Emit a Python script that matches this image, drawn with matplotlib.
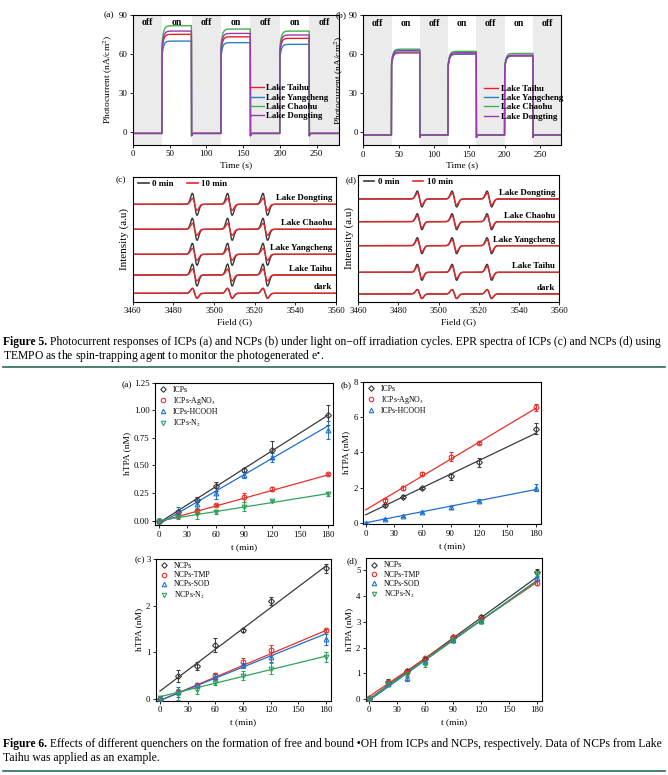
import numpy as np
import matplotlib
matplotlib.use('Agg')
import matplotlib.pyplot as plt
from matplotlib.lines import Line2D

W, H = 668, 775
FAM = ['Liberation Serif', 'DejaVu Serif']
plt.rcParams['font.family'] = FAM
plt.rcParams['mathtext.fontset'] = 'stix'
plt.rcParams['axes.linewidth'] = 0.8

# ------------------------- DATA -------------------------
# Fig 5 (a)(b): photocurrent
lakes = ['Lake Taihu', 'Lake Yangcheng', 'Lake Chaohu', 'Lake Dongting']
lake_colors = ['#e62129', '#2f7ec1', '#44b04a', '#9a3aae']
light_on = [40, 120, 200]
light_off = [80, 160, 240]
seg_edges = [0, 40, 80, 120, 160, 200, 240, 280]
seg_labels = ['off', 'on', 'off', 'on', 'off', 'on', 'off']
icp_on_level = {'Lake Taihu': [74.9, 73.0, 71.8],
                'Lake Yangcheng': [69.7, 68.5, 67.2],
                'Lake Chaohu': [81.5, 79.0, 77.4],
                'Lake Dongting': [77.4, 75.6, 74.4]}
icp_dark_level = -1.3
ncp_on_level = {'Lake Taihu': [61.0, 60.0, 58.6],
                'Lake Yangcheng': [61.7, 60.2, 58.8],
                'Lake Chaohu': [63.9, 62.2, 60.6],
                'Lake Dongting': [62.9, 61.2, 59.3]}
ncp_dark_level = -2.3

# Fig 5 (c)(d): EPR
epr_centers = [3490.5, 3507.8, 3525.2]
epr_width = 1.15
epr_labels = ['Lake Dongting', 'Lake Chaohu', 'Lake Yangcheng', 'Lake Taihu', 'dark']
icp_epr_base = [97.4, 72.4, 47.4, 26.7, 8.4]
icp_epr_amp0 = [11, 11, 11, 11, 5]
icp_epr_amp10 = [6, 6, 6, 6, 5]
ncp_epr_base = [102.7, 80.0, 56.0, 29.4, 7.7]
ncp_epr_amp0 = [8, 8, 8, 8, 4.5]
ncp_epr_amp10 = [6, 6, 6, 6, 4.5]

# Fig 6
t_min = [0, 20, 40, 60, 90, 120, 180]
a_names = ['ICPs', 'ICPs-AgNO$_3$', 'ICPs-HCOOH', 'ICPs-N$_2$']
a_vals = [[0, 0.08, 0.19, 0.31, 0.46, 0.64, 0.96],
          [0, 0.05, 0.09, 0.142, 0.21, 0.284, 0.42],
          [0, 0.072, 0.148, 0.248, 0.414, 0.574, 0.82],
          [0, 0.03, 0.06, 0.08, 0.127, 0.18, 0.24]]
a_err = [[0.01, 0.02, 0.02, 0.04, 0.02, 0.08, 0.09],
         [0.01, 0.01, 0.01, 0.01, 0.04, 0.02, 0.01],
         [0.01, 0.05, 0.04, 0.05, 0.03, 0.04, 0.08],
         [0.01, 0.02, 0.05, 0.02, 0.04, 0.01, 0.02]]
a_fit = [(-0.018, 0.957), (-0.01, 0.415), (-0.03, 0.86), (0.0, 0.245)]

b_t = [[20, 40, 60, 90, 120, 180],
       [20, 40, 60, 90, 120, 180],
       [0, 20, 40, 60, 90, 120, 180]]
b_names = ['ICPs', 'ICPs-AgNO$_3$', 'ICPs-HCOOH']
b_vals = [[1.0, 1.49, 2.0, 2.65, 3.44, 5.35],
          [1.3, 2.0, 2.8, 3.75, 4.55, 6.55],
          [0.03, 0.226, 0.41, 0.62, 0.9, 1.26, 2.0]]
b_err = [[0.08, 0.08, 0.05, 0.2, 0.25, 0.3],
         [0.08, 0.1, 0.1, 0.25, 0.05, 0.2],
         [0.03, 0.04, 0.04, 0.05, 0.08, 0.08, 0.2]]
b_fit = [(0.47, 5.08), (0.75, 6.49), (0.02, 1.9)]

c_names = ['NCPs', 'NCPs-TMP', 'NCPs-SOD', 'NCPs-N$_2$']
c_vals = [[0.0, 0.5, 0.714, 1.157, 1.47, 2.1, 2.8],
          [0.0, 0.15, 0.3, 0.51, 0.8, 1.05, 1.47],
          [0.0, 0.15, 0.3, 0.48, 0.72, 0.9, 1.28],
          [0.02, 0.1, 0.2, 0.35, 0.5, 0.65, 0.9]]
c_err = [[0.02, 0.13, 0.09, 0.15, 0.03, 0.08, 0.1],
         [0.02, 0.05, 0.05, 0.05, 0.08, 0.1, 0.03],
         [0.02, 0.1, 0.05, 0.05, 0.05, 0.1, 0.12],
         [0.02, 0.12, 0.1, 0.05, 0.1, 0.12, 0.1]]
c_fit = [(0.171, 2.85), (-0.03, 1.47), (-0.03, 1.4), (0.05, 0.92)]

d_names = ['NCPs', 'NCPs-TMP', 'NCPs-SOD', 'NCPs-N$_2$']
d_vals = [[0.02, 0.68, 1.07, 1.55, 2.4, 3.2, 4.95],
          [0.05, 0.65, 1.05, 1.6, 2.4, 3.1, 4.5],
          [0.0, 0.6, 0.8, 1.45, 2.3, 3.05, 4.7],
          [0.02, 0.6, 0.95, 1.35, 2.25, 3.0, 4.85]]
d_err = [[0.03, 0.08, 0.1, 0.05, 0.05, 0.05, 0.1],
         [0.03, 0.05, 0.05, 0.05, 0.05, 0.05, 0.08],
         [0.03, 0.05, 0.1, 0.05, 0.05, 0.05, 0.1],
         [0.03, 0.05, 0.08, 0.1, 0.05, 0.05, 0.1]]
d_fit = [(0.0, 4.75), (0.1, 4.55), (-0.05, 4.62), (0.0, 4.6)]

q_colors = ['#3a3a3a', '#e8302a', '#1f6fcf', '#2fa35a']
q_markers = ['D', 'o', '^', 'v']

caption5 = ["Figure 5.", "Photocurrent responses of ICPs (a) and NCPs (b) under light on\u2212off irradiation cycles. EPR spectra of ICPs (c) and NCPs (d) using",
            "TEMPO as the spin-trapping agent to monitor the photogenerated e$^{\\bullet}$."]
caption6 = ["Figure 6.", "Effects of different quenchers on the formation of free and bound \u2022OH from ICPs and NCPs, respectively. Data of NCPs from Lake",
            "Taihu was applied as an example."]

# ------------------------- HELPERS -------------------------
fig = plt.figure(figsize=(W / 100, H / 100), dpi=100)


def add_ax(x0, y0, x1, y1):
    return fig.add_axes([x0 / W, 1 - y1 / H, (x1 - x0) / W, (y1 - y0) / H])


def ftext(x, y, s, **kw):
    return fig.text(x / W, 1 - y / H, s, **kw)


def style(ax, fs=6.3):
    ax.tick_params(direction='out', length=2.5, width=0.6, labelsize=fs, pad=1.5)


def trace(levels, dark):
    t = np.arange(0, 280.001, 0.25)
    y = np.full_like(t, dark, dtype=float)
    for ton, toff, lev in zip(light_on, light_off, levels):
        m = (t >= ton) & (t < toff)
        y[m] = lev - 0.16 * lev * np.exp(-(t[m] - ton) / 2.0)
        m2 = (t >= toff) & (t < toff + 2)
        y[m2] = dark - 1.8 * np.exp(-(t[m2] - toff) / 0.6)
    return t, y


def epr_curve(x, amp):
    y = np.zeros_like(x)
    for c in epr_centers:
        u = (x - c) / epr_width
        y += -amp * u * np.exp(0.5 - u ** 2 / 2)
    return y


# ------------------------- FIG 5 a, b -------------------------
def photo_panel(ax, levels, dark, legx):
    for i, (a, b) in enumerate(zip(seg_edges[:-1], seg_edges[1:])):
        if seg_labels[i] == 'off':
            ax.axvspan(a, b, color='#ebebeb', zorder=0, lw=0)
        ax.text((a + b) / 2, 84.0, seg_labels[i], ha='center', va='center',
                fontsize=7, fontweight='bold')
    for name, col in zip(lakes, lake_colors):
        t, y = trace(levels[name], dark)
        ax.plot(t, y, color=col, lw=1.0, label=name)
    ax.set_xlim(0, 280)
    ax.set_ylim(-10, 90)
    ax.set_xticks([0, 50, 100, 150, 200, 250])
    ax.set_yticks([0, 30, 60, 90])
    style(ax)
    ax.set_xlabel('Time (s)', fontsize=6.8, labelpad=2)
    ax.set_ylabel('Photocurrent (nA/cm$^2$)', fontsize=6.8, labelpad=2)
    ax.legend(loc='lower left', bbox_to_anchor=legx, frameon=False,
              prop={'size': 6.4, 'weight': 'bold'}, handlelength=1.6,
              handletextpad=0.3, labelspacing=0.12, borderaxespad=0)


axa = add_ax(132.7, 14.7, 338.8, 144.7)
photo_panel(axa, icp_on_level, icp_dark_level, (0.55, 0.16))
axb = add_ax(363.3, 15.3, 561.3, 145.0)
photo_panel(axb, ncp_on_level, ncp_dark_level, (0.59, 0.16))
ftext(104, 15, '(a)', fontsize=6.8, va='center')
ftext(336, 15, '(b)', fontsize=6.8, va='center')


# ------------------------- FIG 5 c, d -------------------------
def epr_panel(ax, base, amp0, amp10, ylim_top, label_dy):
    x = np.linspace(3460, 3560, 2001)
    for b, a0, a10, lab in zip(base, amp0, amp10, epr_labels):
        ax.plot(x, b + epr_curve(x, a0), color='#3a3a3a', lw=1.0)
        ax.plot(x, b + epr_curve(x, a10), color='#e8262a', lw=1.0)
        ax.text(3558, b + label_dy, lab, ha='right', va='bottom',
                fontsize=6.4, fontweight='bold')
    ax.set_xlim(3460, 3560)
    ax.set_ylim(0, ylim_top)
    ax.set_yticks([])
    ax.set_xticks(np.arange(3460, 3561, 20))
    style(ax)
    ax.set_xlabel('Field (G)', fontsize=6.8, labelpad=2)
    ax.set_ylabel('Intensity (a.u)', fontsize=8, labelpad=3)
    h = [Line2D([], [], color='#3a3a3a', lw=1.2), Line2D([], [], color='#e8262a', lw=1.2)]
    ax.legend(h, ['0 min', '10 min'], loc='upper left', ncol=2, frameon=False,
              prop={'size': 6.4, 'weight': 'bold'}, handlelength=1.2, handletextpad=0.4,
              columnspacing=1.5, bbox_to_anchor=(0.0, 1.02), borderaxespad=0.2)


axc = add_ax(132.7, 177.3, 336.0, 301.7)
epr_panel(axc, icp_epr_base, icp_epr_amp0, icp_epr_amp10, 124.4, 2.5)
axd = add_ax(358.3, 175.0, 559.3, 301.7)
epr_panel(axd, ncp_epr_base, ncp_epr_amp0, ncp_epr_amp10, 126.7, 2.0)
ftext(116, 180, '(c)', fontsize=6.8, va='center')
ftext(346, 180, '(d)', fontsize=6.8, va='center')


# ------------------------- FIG 6 -------------------------
def q_panel(ax, ts, vals, errs, fits, names, xlim, ylim, yticks, yfmt):
    handles = []
    for i, (tt, v, e, f, nm) in enumerate(zip(ts, vals, errs, fits, names)):
        col = q_colors[i]
        ax.plot([0, 180], [f[0], f[1]], color=col, lw=0.9, zorder=2)
        ax.errorbar(tt, v, yerr=e, fmt=q_markers[i], color=col, mfc='none',
                    ms=3.4 if q_markers[i] != 'D' else 3.0, mew=0.8, elinewidth=0.7,
                    capsize=1.6, capthick=0.7, zorder=3)
        handles.append(Line2D([], [], ls='none', marker=q_markers[i], color=col,
                              mfc='none', ms=3.2 if q_markers[i] != 'D' else 2.8, mew=0.8))
    ax.set_xlim(*xlim)
    ax.set_ylim(*ylim)
    ax.set_xticks([0, 30, 60, 90, 120, 150, 180])
    ax.set_yticks(yticks)
    ax.set_yticklabels([yfmt.format(v) for v in yticks])
    style(ax)
    ax.set_xlabel('t (min)', fontsize=6.8, labelpad=3)
    ax.set_ylabel('hTPA (nM)', fontsize=6.8, labelpad=2)
    ax.legend(handles, names, loc='upper left', frameon=False, fontsize=5.6,
              handletextpad=0.7, labelspacing=0.15, borderaxespad=0.0,
              handlelength=1.2, bbox_to_anchor=(0.0, 1.0))


ax6a = add_ax(155.3, 382.7, 333.0, 525.0)
q_panel(ax6a, [t_min] * 4, a_vals, a_err, a_fit, a_names, (-4.3, 185), (-0.04, 1.25),
        [0, 0.25, 0.5, 0.75, 1.0, 1.25], '{:.2f}')
ax6b = add_ax(363.3, 381.7, 540.7, 524.0)
q_panel(ax6b, b_t, b_vals, b_err, b_fit, b_names, (-2.5, 185.3), (-0.05, 8),
        [0, 2, 4, 6, 8], '{:.0f}')
ax6c = add_ax(156.0, 559.0, 331.0, 700.7)
q_panel(ax6c, [t_min] * 4, c_vals, c_err, c_fit, c_names, (-4.3, 185.5), (-0.035, 3),
        [0, 1, 2, 3], '{:.0f}')
ax6d = add_ax(366.0, 558.3, 542.3, 700.7)
q_panel(ax6d, [t_min] * 4, d_vals, d_err, d_fit, d_names, (-3.5, 185.4), (-0.065, 5.47),
        [0, 1, 2, 3, 4, 5], '{:.0f}')
ftext(122, 385, '(a)', fontsize=6.8, va='center')
ftext(341, 385, '(b)', fontsize=6.8, va='center')
ftext(135, 560, '(c)', fontsize=6.8, va='center')
ftext(347, 561, '(d)', fontsize=6.8, va='center')

# ------------------------- CAPTIONS -------------------------
renderer = fig.canvas.get_renderer()
X0, X1 = 3, 665


def measure(s, fs, wt='normal'):
    t = ftext(0, 0, s, fontsize=fs, fontweight=wt)
    w = t.get_window_extent(renderer).width
    t.remove()
    return w


def caption(y1, y2, parts, fs0=8.0):
    bold, rest, line2 = parts
    space0 = measure('a a', fs0) - measure('aa', fs0)
    w0 = measure(bold, fs0, 'bold') + space0 + measure(rest, fs0)
    fs = fs0 * (X1 - X0) / w0
    wb = measure(bold, fs, 'bold')
    sp = measure('a a', fs) - measure('aa', fs)
    ftext(X0, y1, bold, fontsize=fs, fontweight='bold', va='baseline')
    ftext(X0 + wb + sp, y1, rest, fontsize=fs, va='baseline')
    ftext(X0, y2, line2, fontsize=fs, va='baseline')


caption(345.5, 358.5, caption5)
caption(747.5, 760.5, caption6)

for yy in (367.5, 771):
    fig.add_artist(Line2D([3 / W, 665 / W], [1 - yy / H, 1 - yy / H], color='#2b6a55', lw=1.2))

fig.savefig('out.png', dpi=100)
